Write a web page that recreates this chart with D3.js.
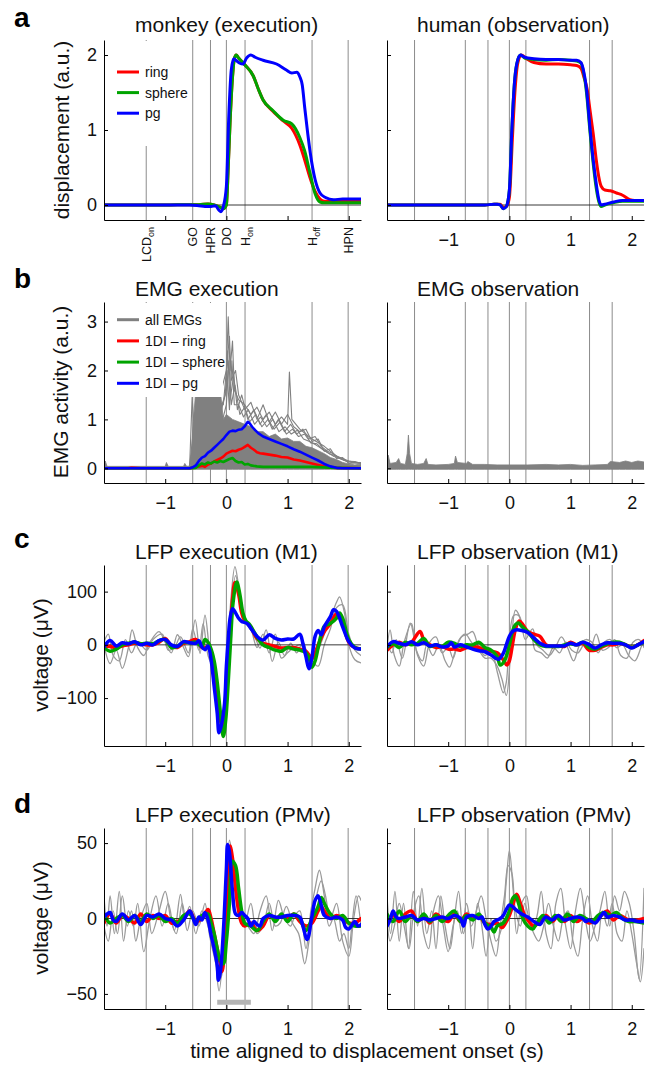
<!DOCTYPE html>
<html><head><meta charset="utf-8">
<script src="https://cdn.jsdelivr.net/npm/d3@7"></script>
<style>body{margin:0;background:#fff;} svg{display:block;}</style>
</head><body><svg id="fig" width="653" height="1065"></svg>
<script>
// ---------------- DATA ----------------
const xTicks = [-1, 0, 1, 2];
const yTicksA = [0, 1, 2];
const yTicksB = [0, 1, 2, 3];
const yTicksC = [-100, 0, 100];
const yTicksD = [-50, 0, 50];
const eventsMonkey = [-1.31, -0.55, -0.26, 0, 0.305, 1.40, 1.99];
const eventLabelsMonkey = [["LCD","on"],["GO",""],["HPR",""],["DO",""],["H","on"],["H","off"],["HPN",""]];
const eventsHuman = [-1.55, -0.72, -0.35, 0, 0.27, 1.31, 1.68];
const titles = ["monkey (execution)","human (observation)","EMG execution","EMG observation","LFP execution (M1)","LFP observation (M1)","LFP execution (PMv)","LFP observation (PMv)"];
const legendA = ["ring","sphere","pg"];
const legendB = ["all EMGs","1DI \u2013 ring","1DI \u2013 sphere","1DI \u2013 pg"];
const sigBar = [-0.15, 0.4, -55.5];

// a: displacement
const dispMonkeyRing = [[-2,0],[-1,0],[-0.6,0.005],[-0.45,0.005],[-0.3,0.012],[-0.2,0.0],[-0.1,-0.03],[-0.05,-0.05],[0,0.0],[0.03,0.5],[0.06,1.1],[0.1,1.7],[0.13,1.95],[0.16,2.0],[0.2,1.96],[0.3,1.87],[0.44,1.72],[0.52,1.55],[0.6,1.4],[0.76,1.25],[0.93,1.12],[1.07,1.02],[1.2,0.8],[1.28,0.6],[1.36,0.38],[1.45,0.18],[1.53,0.08],[1.6,0.05],[2.2,0.05]];
const dispMonkeySphere = [[-2,0],[-1,0],[-0.6,0.005],[-0.45,0.005],[-0.3,0.012],[-0.2,0.0],[-0.1,-0.03],[-0.05,-0.05],[0,0.0],[0.03,0.5],[0.06,1.1],[0.1,1.7],[0.13,1.95],[0.16,2.0],[0.2,1.96],[0.3,1.87],[0.44,1.72],[0.52,1.55],[0.6,1.4],[0.76,1.26],[0.93,1.13],[1.07,1.08],[1.2,0.9],[1.28,0.72],[1.36,0.45],[1.45,0.15],[1.53,0.04],[1.6,0.03],[2.2,0.03]];
const dispMonkeyPg = [[-2,0],[-0.6,0.0],[-0.45,-0.01],[-0.35,-0.02],[-0.25,-0.02],[-0.18,-0.01],[-0.12,-0.07],[-0.09,-0.09],[-0.05,-0.02],[0,0.25],[0.04,1.2],[0.08,1.8],[0.12,1.95],[0.17,1.92],[0.22,1.89],[0.27,1.88],[0.33,1.96],[0.4,2.0],[0.47,1.97],[0.6,1.93],[0.82,1.88],[0.98,1.8],[1.07,1.76],[1.15,1.77],[1.2,1.71],[1.24,1.6],[1.28,1.3],[1.33,0.95],[1.37,0.7],[1.45,0.34],[1.53,0.16],[1.62,0.1],[1.75,0.07],[1.9,0.08],[2.2,0.08]];
const dispHumanRing = [[-2,0],[-0.4,0],[-0.25,0.01],[-0.15,0.01],[-0.1,-0.03],[-0.05,-0.02],[0,0.1],[0.05,0.9],[0.09,1.5],[0.14,1.9],[0.2,2.0],[0.28,1.95],[0.4,1.9],[0.6,1.88],[0.8,1.88],[1.0,1.87],[1.1,1.86],[1.17,1.82],[1.22,1.7],[1.27,1.55],[1.32,1.25],[1.37,0.95],[1.42,0.6],[1.46,0.38],[1.5,0.25],[1.56,0.2],[1.65,0.19],[1.75,0.16],[1.85,0.13],[1.97,0.07],[2.05,0.06],[2.2,0.06]];
const dispHumanSphere = [[-2,0],[-0.4,0.0],[-0.25,0.01],[-0.2,0.01],[-0.15,0.0],[-0.1,-0.05],[-0.05,-0.02],[0,0.2],[0.04,1.0],[0.08,1.6],[0.12,1.88],[0.18,2.0],[0.25,1.96],[0.4,1.94],[0.6,1.93],[0.8,1.94],[1.0,1.93],[1.1,1.92],[1.17,1.89],[1.21,1.78],[1.26,1.5],[1.32,0.95],[1.37,0.55],[1.42,0.22],[1.46,0.05],[1.5,-0.02],[1.56,0.0],[1.7,0.03],[1.85,0.05],[2.2,0.05]];
const dispHumanPg = [[-2,0],[-0.4,0.0],[-0.25,0.01],[-0.2,0.01],[-0.15,0.0],[-0.1,-0.05],[-0.05,-0.02],[0,0.2],[0.04,1.0],[0.08,1.6],[0.12,1.88],[0.18,2.0],[0.25,1.97],[0.4,1.95],[0.6,1.94],[0.8,1.94],[1.0,1.93],[1.1,1.93],[1.17,1.9],[1.21,1.8],[1.26,1.55],[1.32,1.0],[1.37,0.6],[1.42,0.28],[1.46,0.08],[1.5,0.0],[1.56,0.01],[1.7,0.04],[1.85,0.06],[2.2,0.06]];

// b: EMG
const emgCore = [[-2,0.04],[-1.98,0.15],[-1.95,0.04],[-1.0,0.04],[-0.98,0.12],[-0.95,0.04],[-0.7,0.04],[-0.68,0.1],[-0.65,0.04],[-0.58,0.05],[-0.55,0.8],[-0.5,1.6],[-0.1,1.6],[-0.05,1.0],[0.0,1.1],[0.1,1.0],[0.2,0.95],[0.3,0.9],[0.4,0.85],[0.5,0.75],[0.6,0.75],[0.7,0.65],[0.8,0.7],[0.9,0.6],[1.0,0.62],[1.1,0.55],[1.2,0.55],[1.3,0.45],[1.4,0.42],[1.5,0.36],[1.6,0.3],[1.7,0.22],[1.8,0.18],[1.9,0.12],[2.0,0.09],[2.1,0.07],[2.2,0.09]];
const emgCoreBase = -0.02;
const emgTraceA = [[-0.6,0.05],[-0.56,1.45],[-0.53,0.9],[-0.3,1.6],[-0.1,1.5],[0.0,2.0],[0.03,3.1],[0.06,2.0],[0.1,2.6],[0.13,1.6],[0.2,1.4],[0.3,1.3],[0.4,1.1],[0.5,1.25],[0.6,1.0],[0.7,1.15],[0.8,0.9],[0.9,1.05],[1.0,0.9],[1.03,1.97],[1.07,1.0],[1.2,0.8],[1.4,0.6],[1.6,0.45],[1.8,0.25],[2.0,0.15],[2.2,0.1]];
const emgTraceB = [[-0.6,0.05],[-0.45,1.2],[-0.2,1.4],[-0.05,1.3],[0.05,2.7],[0.08,1.8],[0.15,2.0],[0.2,1.5],[0.3,1.2],[0.4,1.35],[0.5,1.0],[0.6,1.3],[0.7,0.95],[0.8,1.15],[0.9,0.9],[1.0,1.1],[1.1,0.85],[1.2,0.75],[1.3,0.8],[1.4,0.55],[1.5,0.6],[1.6,0.35],[1.7,0.4],[1.8,0.2],[1.9,0.22],[2.0,0.1],[2.2,0.12]];
const emgTraceC = [[-0.6,0.05],[-0.4,0.8],[-0.1,1.1],[0.0,1.6],[0.02,2.4],[0.06,1.4],[0.12,1.9],[0.18,1.2],[0.25,1.5],[0.35,1.0],[0.45,1.2],[0.55,0.9],[0.65,1.1],[0.75,0.8],[0.85,1.0],[0.95,0.75],[1.05,0.9],[1.15,0.7],[1.25,0.8],[1.35,0.6],[1.45,0.65],[1.55,0.45],[1.65,0.35],[1.75,0.3],[1.85,0.2],[1.95,0.15],[2.1,0.14],[2.2,0.1]];
const emgTraceD = [[-0.6,0.05],[-0.5,0.6],[-0.3,0.9],[-0.1,0.8],[0.0,1.3],[0.04,2.2],[0.08,1.3],[0.14,1.7],[0.22,1.1],[0.3,1.25],[0.38,0.95],[0.48,1.1],[0.58,0.85],[0.68,1.0],[0.78,0.8],[0.88,0.95],[0.98,0.7],[1.08,0.8],[1.18,0.65],[1.28,0.7],[1.38,0.52],[1.48,0.5],[1.58,0.38],[1.68,0.3],[1.78,0.26],[1.9,0.18],[2.05,0.12],[2.2,0.1]];
const emgTraceE = [[-0.6,0.05],[-0.52,1.0],[-0.35,1.2],[-0.15,1.0],[-0.02,1.5],[0.01,2.0],[0.05,1.2],[0.09,2.2],[0.13,1.3],[0.2,1.3],[0.28,1.05],[0.36,1.2],[0.46,0.9],[0.56,1.05],[0.66,0.85],[0.76,1.0],[0.86,0.75],[0.96,0.85],[1.06,0.7],[1.16,0.78],[1.26,0.6],[1.36,0.55],[1.46,0.48],[1.56,0.4],[1.66,0.32],[1.76,0.24],[1.86,0.2],[2.0,0.13],[2.2,0.11]];
const emgRing = [[-2,0],[-1.6,0.0],[-1.55,0.01],[-1.4,0.0],[-0.6,0.0],[-0.5,0.02],[-0.45,0.04],[-0.4,0.05],[-0.35,0.03],[-0.3,0.08],[-0.25,0.1],[-0.2,0.14],[-0.15,0.17],[-0.1,0.2],[-0.05,0.24],[0,0.3],[0.05,0.33],[0.1,0.36],[0.15,0.35],[0.2,0.38],[0.25,0.4],[0.3,0.44],[0.35,0.48],[0.4,0.42],[0.45,0.38],[0.5,0.33],[0.55,0.31],[0.6,0.3],[0.7,0.28],[0.8,0.26],[0.9,0.23],[1.0,0.22],[1.1,0.18],[1.2,0.16],[1.3,0.13],[1.4,0.1],[1.5,0.07],[1.6,0.04],[1.7,0.02],[1.8,0.01],[2.2,0.0]];
const emgSphere = [[-2,0],[-0.6,0],[-0.5,0.01],[-0.45,0.06],[-0.4,0.1],[-0.35,0.08],[-0.3,0.12],[-0.25,0.1],[-0.2,0.14],[-0.15,0.12],[-0.1,0.15],[-0.05,0.13],[0,0.16],[0.05,0.19],[0.1,0.21],[0.15,0.15],[0.2,0.12],[0.25,0.13],[0.3,0.08],[0.35,0.09],[0.4,0.06],[0.5,0.04],[0.6,0.03],[0.8,0.03],[1.0,0.03],[1.2,0.03],[1.4,0.03],[1.6,0.02],[1.8,0.01],[2.2,0]];
const emgPg = [[-2,0],[-0.6,0],[-0.55,0.02],[-0.5,0.06],[-0.45,0.15],[-0.4,0.22],[-0.35,0.25],[-0.3,0.32],[-0.25,0.36],[-0.2,0.42],[-0.15,0.48],[-0.1,0.54],[-0.05,0.6],[0,0.68],[0.05,0.75],[0.1,0.77],[0.15,0.76],[0.2,0.79],[0.25,0.8],[0.3,0.86],[0.35,0.95],[0.38,0.92],[0.42,0.85],[0.47,0.78],[0.52,0.72],[0.6,0.65],[0.7,0.6],[0.8,0.55],[0.9,0.5],[1.0,0.45],[1.1,0.39],[1.2,0.34],[1.3,0.28],[1.4,0.22],[1.5,0.16],[1.6,0.09],[1.7,0.04],[1.8,0.01],[1.9,0.0],[2.2,0.0]];
const emgObsTop = [[-2,0.05],[-1.98,0.27],[-1.95,0.1],[-1.85,0.12],[-1.81,0.2],[-1.78,0.1],[-1.7,0.08],[-1.67,0.3],[-1.65,0.68],[-1.63,0.3],[-1.6,0.1],[-1.5,0.08],[-1.4,0.1],[-1.36,0.2],[-1.33,0.08],[-1.2,0.07],[-1.0,0.08],[-0.9,0.1],[-0.88,0.25],[-0.85,0.12],[-0.7,0.1],[-0.68,0.14],[-0.6,0.08],[-0.4,0.08],[-0.2,0.07],[0,0.07],[0.3,0.07],[0.6,0.08],[0.8,0.07],[1.0,0.08],[1.2,0.06],[1.4,0.07],[1.6,0.08],[1.65,0.14],[1.8,0.12],[1.9,0.15],[2.0,0.12],[2.1,0.15],[2.2,0.13]];

// c: LFP M1
const lfpM1ExecRing = [[-2,-2],[-1.9,-3],[-1.8,-5],[-1.7,-2],[-1.6,0],[-1.5,3],[-1.4,2],[-1.3,0],[-1.2,0],[-1.1,5],[-1.0,12],[-0.9,-2],[-0.8,-5],[-0.7,3],[-0.6,6],[-0.5,10],[-0.4,-5],[-0.35,-5],[-0.3,-5],[-0.25,-12],[-0.2,-40],[-0.15,-95],[-0.1,-140],[-0.07,-150],[-0.03,-125],[0,-80],[0.05,0],[0.1,85],[0.14,117],[0.2,95],[0.25,60],[0.3,45],[0.35,40],[0.4,33],[0.5,12],[0.6,3],[0.7,0],[0.8,-3],[0.9,-6],[1.0,-5],[1.1,-5],[1.2,-8],[1.3,-12],[1.4,-25],[1.45,-15],[1.5,0],[1.6,25],[1.7,40],[1.8,58],[1.9,40],[2.0,5],[2.1,-5],[2.2,-8]];
const lfpM1ExecSphere = [[-2,-5],[-1.9,-12],[-1.8,-8],[-1.7,0],[-1.6,3],[-1.5,5],[-1.4,2],[-1.3,3],[-1.2,2],[-1.1,8],[-1.0,10],[-0.9,-5],[-0.8,-3],[-0.7,5],[-0.6,4],[-0.5,5],[-0.4,-3],[-0.35,10],[-0.3,5],[-0.25,-8],[-0.2,-30],[-0.15,-70],[-0.1,-125],[-0.05,-172],[-0.01,-140],[0.03,-70],[0.07,10],[0.11,80],[0.17,118],[0.22,95],[0.27,60],[0.32,45],[0.38,38],[0.45,25],[0.5,15],[0.6,0],[0.7,-5],[0.8,-10],[0.9,-12],[1.0,-5],[1.1,-8],[1.2,-10],[1.3,-15],[1.35,-25],[1.4,-42],[1.45,-30],[1.5,-5],[1.55,20],[1.6,35],[1.7,40],[1.8,50],[1.85,60],[1.9,50],[2.0,10],[2.1,-5],[2.2,-8]];
const lfpM1ExecPg = [[-2,-4],[-1.9,8],[-1.8,-2],[-1.7,4],[-1.6,2],[-1.5,6],[-1.4,0],[-1.3,3],[-1.2,0],[-1.1,8],[-1.0,10],[-0.9,0],[-0.8,-3],[-0.7,6],[-0.6,4],[-0.5,3],[-0.45,8],[-0.4,-4],[-0.35,-9],[-0.3,-2],[-0.25,-28],[-0.2,-78],[-0.15,-128],[-0.12,-165],[-0.08,-150],[-0.03,-110],[0,-40],[0.03,10],[0.06,50],[0.1,68],[0.15,60],[0.2,50],[0.25,44],[0.3,42],[0.35,39],[0.4,31],[0.5,16],[0.6,9],[0.7,19],[0.8,12],[0.9,9],[1.0,11],[1.1,11],[1.2,20],[1.25,3],[1.3,-22],[1.35,-45],[1.4,-22],[1.45,16],[1.5,27],[1.55,19],[1.6,34],[1.7,53],[1.75,66],[1.8,63],[1.9,34],[2.0,6],[2.1,-6],[2.2,-8]];
const lfpM1ExecGrayA = [[-2,0],[-1.9,-35],[-1.8,-10],[-1.7,-44],[-1.6,-5],[-1.54,28],[-1.45,-5],[-1.35,-20],[-1.25,5],[-1.1,25],[-1.0,5],[-0.9,-15],[-0.8,19],[-0.7,-5],[-0.62,-22],[-0.51,47],[-0.43,-16],[-0.35,56],[-0.28,-5],[-0.2,-60],[-0.1,-150],[-0.05,-172],[0,-80],[0.07,80],[0.14,147],[0.2,110],[0.28,50],[0.35,35],[0.45,20],[0.55,-6],[0.65,28],[0.75,-31],[0.85,5],[0.95,-20],[1.05,3],[1.15,-15],[1.25,5],[1.35,-25],[1.42,-28],[1.5,-10],[1.6,20],[1.7,50],[1.8,80],[1.85,90],[1.93,60],[2.0,0],[2.1,-28],[2.2,-34]];
const lfpM1ExecGrayB = [[-2,5],[-1.93,20],[-1.85,-20],[-1.75,-30],[-1.65,10],[-1.55,-15],[-1.45,5],[-1.3,-10],[-1.2,10],[-1.05,20],[-0.95,-10],[-0.85,-5],[-0.75,15],[-0.62,-15],[-0.55,30],[-0.45,-10],[-0.38,40],[-0.3,-20],[-0.2,-50],[-0.1,-140],[-0.05,-160],[0,-100],[0.07,50],[0.15,130],[0.22,90],[0.3,45],[0.4,30],[0.5,-5],[0.6,20],[0.7,-15],[0.8,20],[0.9,-25],[1.0,-15],[1.1,-5],[1.2,0],[1.3,-10],[1.4,-30],[1.5,-40],[1.6,0],[1.7,30],[1.8,70],[1.9,75],[2.0,20],[2.1,-10],[2.2,-20]];
const lfpM1ObsRing = [[-2,-10],[-1.9,0],[-1.8,5],[-1.7,0],[-1.6,5],[-1.46,25],[-1.4,10],[-1.3,0],[-1.2,-5],[-1.1,-3],[-1.0,-8],[-0.9,-8],[-0.8,-10],[-0.7,-5],[-0.6,-3],[-0.5,-5],[-0.4,-10],[-0.3,-12],[-0.2,-15],[-0.1,-28],[-0.04,-38],[0,-30],[0.05,0],[0.1,30],[0.16,45],[0.22,38],[0.3,25],[0.4,20],[0.5,16],[0.6,0],[0.7,-3],[0.8,-2],[0.9,-3],[1.0,5],[1.1,0],[1.2,3],[1.3,-10],[1.4,-10],[1.5,-5],[1.6,0],[1.7,0],[1.8,3],[1.9,0],[2.0,-5],[2.1,0],[2.2,8]];
const lfpM1ObsSphere = [[-2,-5],[-1.9,2],[-1.8,-5],[-1.7,5],[-1.6,0],[-1.5,3],[-1.4,12],[-1.3,-3],[-1.2,0],[-1.1,-3],[-1.0,5],[-0.9,3],[-0.8,-3],[-0.7,0],[-0.6,0],[-0.5,5],[-0.4,-5],[-0.3,-10],[-0.2,-22],[-0.15,-38],[-0.08,-30],[0,0],[0.05,25],[0.1,38],[0.15,41],[0.2,35],[0.3,25],[0.4,10],[0.5,0],[0.6,-3],[0.7,-3],[0.8,-3],[0.9,0],[1.0,2],[1.1,0],[1.2,5],[1.3,-5],[1.4,-8],[1.5,-3],[1.6,2],[1.7,5],[1.8,5],[1.9,0],[2.0,-5],[2.1,0],[2.2,5]];
const lfpM1ObsPg = [[-2,-3],[-1.9,6],[-1.8,3],[-1.7,0],[-1.6,6],[-1.5,0],[-1.4,4],[-1.3,-2],[-1.2,0],[-1.1,-4],[-1.0,-2],[-0.95,4],[-0.9,-4],[-0.8,0],[-0.7,-4],[-0.6,-8],[-0.5,-11],[-0.4,-13],[-0.3,-19],[-0.18,-27],[-0.1,-16],[-0.05,0],[0,16],[0.05,25],[0.1,28],[0.2,27],[0.3,23],[0.4,13],[0.5,3],[0.6,-2],[0.7,-2],[0.8,-2],[0.9,-2],[1.0,3],[1.1,0],[1.2,5],[1.3,1],[1.4,-6],[1.5,0],[1.6,4],[1.7,3],[1.8,3],[1.9,0],[2.0,-6],[2.1,0],[2.2,6]];
const lfpM1ObsGrayA = [[-2,-10],[-1.95,28],[-1.88,-20],[-1.8,-40],[-1.72,5],[-1.6,40],[-1.52,-10],[-1.42,-30],[-1.35,0],[-1.25,-20],[-1.15,0],[-1.05,-30],[-0.98,-42],[-0.88,-10],[-0.78,15],[-0.68,20],[-0.6,25],[-0.5,-5],[-0.4,-20],[-0.3,-10],[-0.2,-50],[-0.1,-90],[-0.05,-70],[0,10],[0.07,55],[0.15,55],[0.22,30],[0.3,20],[0.38,30],[0.45,0],[0.55,-10],[0.65,-20],[0.75,-5],[0.85,15],[0.95,-5],[1.05,-30],[1.15,0],[1.25,10],[1.35,5],[1.45,-15],[1.55,5],[1.65,10],[1.75,-5],[1.85,0],[1.95,-20],[2.05,-30],[2.15,-5],[2.2,10]];
const lfpM1ObsGrayB = [[-2,5],[-1.92,-15],[-1.85,10],[-1.75,-25],[-1.62,41],[-1.5,-20],[-1.4,-40],[-1.3,5],[-1.2,15],[-1.1,-15],[-1.0,-5],[-0.92,-25],[-0.82,10],[-0.72,20],[-0.62,5],[-0.5,-10],[-0.4,-25],[-0.3,-25],[-0.2,-40],[-0.12,-65],[-0.05,-95],[0.02,-20],[0.1,65],[0.18,50],[0.26,10],[0.35,25],[0.42,-10],[0.52,-15],[0.62,-25],[0.72,-5],[0.82,-15],[0.92,5],[1.02,-10],[1.12,-15],[1.22,0],[1.32,-5],[1.42,20],[1.52,-10],[1.62,-5],[1.72,10],[1.82,-20],[1.92,-25],[2.02,5],[2.12,10],[2.2,-5]];

// d: LFP PMv
const lfpPMvExecRing = [[-2,-3],[-1.9,3],[-1.8,-3],[-1.7,2],[-1.6,0],[-1.5,-3],[-1.4,3],[-1.3,-2],[-1.2,2],[-1.1,0],[-1.0,2],[-0.9,-3],[-0.8,-2],[-0.7,0],[-0.6,5],[-0.5,-2],[-0.4,0],[-0.3,6],[-0.25,0],[-0.2,-10],[-0.15,-20],[-0.1,-30],[-0.07,-35],[-0.03,-20],[0,0],[0.03,25],[0.06,48],[0.1,40],[0.15,20],[0.2,5],[0.25,-3],[0.3,-5],[0.4,-3],[0.5,-8],[0.6,-5],[0.7,2],[0.8,0],[0.9,2],[1.0,0],[1.1,3],[1.2,-2],[1.3,-5],[1.4,-3],[1.5,5],[1.55,8],[1.6,5],[1.7,0],[1.8,2],[1.9,0],[2.0,-3],[2.1,-3],[2.2,0]];
const lfpPMvExecSphere = [[-2,3],[-1.9,-3],[-1.8,0],[-1.7,2],[-1.6,-2],[-1.5,2],[-1.4,-2],[-1.3,3],[-1.2,0],[-1.1,2],[-1.0,-2],[-0.9,0],[-0.8,-3],[-0.7,2],[-0.6,3],[-0.5,-2],[-0.4,2],[-0.3,3],[-0.25,-3],[-0.2,-10],[-0.15,-20],[-0.1,-28],[-0.05,-30],[0,-15],[0.05,10],[0.1,38],[0.15,35],[0.2,20],[0.25,5],[0.3,-3],[0.4,-5],[0.5,-8],[0.6,-2],[0.7,3],[0.8,-2],[0.9,3],[1.0,-2],[1.1,3],[1.2,0],[1.3,-8],[1.4,0],[1.5,8],[1.55,14],[1.6,10],[1.7,3],[1.8,0],[1.9,2],[2.0,-3],[2.1,-5],[2.2,-5]];
const lfpPMvExecPg = [[-2,1],[-1.95,3],[-1.9,4],[-1.85,-1],[-1.8,-2],[-1.7,3],[-1.6,-1],[-1.5,2],[-1.4,-4],[-1.3,2],[-1.2,1],[-1.1,3],[-1.0,0],[-0.9,-1],[-0.8,-5],[-0.7,-1],[-0.6,5],[-0.55,1],[-0.5,-4],[-0.45,1],[-0.4,-1],[-0.35,4],[-0.3,-1],[-0.25,-11],[-0.2,-20],[-0.15,-31],[-0.13,-41],[-0.1,-36],[-0.05,-9],[0,33],[0.02,49],[0.05,44],[0.1,18],[0.15,3],[0.2,2],[0.25,4],[0.3,2],[0.35,0],[0.4,-5],[0.45,-2],[0.5,-4],[0.55,-5],[0.6,0],[0.7,2],[0.8,1],[0.9,1],[1.0,2],[1.1,2],[1.2,1],[1.25,-5],[1.32,-14],[1.4,2],[1.45,12],[1.5,15],[1.55,9],[1.6,2],[1.7,0],[1.8,1],[1.9,-1],[1.95,-6],[2.0,-7],[2.1,-2],[2.15,-5],[2.2,-4]];
const lfpPMvExecGrayA = [[-2,15],[-1.95,-5],[-1.9,15],[-1.83,-10],[-1.75,18],[-1.68,-15],[-1.6,5],[-1.52,-5],[-1.45,10],[-1.35,-22],[-1.25,0],[-1.15,15],[-1.05,-5],[-0.95,10],[-0.85,-8],[-0.75,16],[-0.68,0],[-0.6,8],[-0.5,-10],[-0.4,5],[-0.3,-5],[-0.2,-20],[-0.12,-48],[-0.05,-20],[0,20],[0.05,52],[0.1,40],[0.18,15],[0.25,0],[0.35,-5],[0.45,-10],[0.55,5],[0.65,15],[0.75,-8],[0.85,12],[0.95,0],[1.05,-5],[1.12,2],[1.2,5],[1.3,-20],[1.38,5],[1.45,20],[1.52,32],[1.6,15],[1.68,-5],[1.75,0],[1.85,-15],[1.92,-10],[2.0,-20],[2.05,-5],[2.12,15],[2.2,-5]];
const lfpPMvExecGrayB = [[-2,-5],[-1.93,-15],[-1.85,5],[-1.78,-10],[-1.7,15],[-1.62,-5],[-1.55,5],[-1.48,-15],[-1.4,0],[-1.3,10],[-1.22,-10],[-1.1,5],[-1.0,18],[-0.9,-2],[-0.82,-10],[-0.72,10],[-0.64,-8],[-0.55,5],[-0.45,-5],[-0.35,10],[-0.28,-10],[-0.2,-25],[-0.1,-40],[-0.04,-30],[0.02,10],[0.08,45],[0.14,30],[0.22,5],[0.3,-3],[0.4,10],[0.5,-10],[0.6,-5],[0.7,10],[0.8,-5],[0.88,-3],[0.98,8],[1.08,-3],[1.18,-10],[1.28,-30],[1.35,-15],[1.45,10],[1.55,25],[1.62,15],[1.7,0],[1.8,10],[1.9,-15],[2.0,-25],[2.08,0],[2.16,15],[2.2,12]];
const lfpPMvObsRing = [[-2,-3],[-1.9,2],[-1.8,-2],[-1.7,3],[-1.6,5],[-1.5,-2],[-1.4,2],[-1.3,-3],[-1.2,3],[-1.1,0],[-1.0,-2],[-0.9,3],[-0.8,-2],[-0.7,3],[-0.6,0],[-0.5,2],[-0.4,-3],[-0.3,-4],[-0.2,-3],[-0.12,-6],[-0.05,-2],[0,2],[0.05,8],[0.12,16],[0.18,10],[0.25,2],[0.32,-2],[0.4,-5],[0.5,-2],[0.6,2],[0.7,-2],[0.8,2],[0.9,-2],[1.0,2],[1.1,-2],[1.2,0],[1.3,-3],[1.4,-1],[1.5,2],[1.6,5],[1.7,-1],[1.8,2],[1.9,0],[2.0,-2],[2.1,-1],[2.2,0]];
const lfpPMvObsSphere = [[-2,3],[-1.9,-2],[-1.8,5],[-1.7,-2],[-1.6,2],[-1.5,-2],[-1.4,3],[-1.3,-2],[-1.2,2],[-1.1,-2],[-1.0,2],[-0.9,5],[-0.8,-2],[-0.7,2],[-0.6,-1],[-0.5,3],[-0.4,-3],[-0.3,-6],[-0.25,-9],[-0.2,-5],[-0.1,-3],[0,5],[0.05,13],[0.1,15],[0.15,10],[0.22,0],[0.3,-5],[0.38,-7],[0.45,-3],[0.55,2],[0.65,-3],[0.75,2],[0.85,-2],[0.95,3],[1.05,-2],[1.15,2],[1.25,0],[1.35,-2],[1.45,2],[1.55,4],[1.65,2],[1.75,4],[1.85,0],[1.95,-2],[2.05,-2],[2.2,-3]];
const lfpPMvObsPg = [[-2,-5],[-1.95,-1],[-1.9,5],[-1.85,1],[-1.8,0],[-1.7,1],[-1.6,2],[-1.5,-1],[-1.4,0],[-1.3,-1],[-1.2,0],[-1.1,1],[-1.0,0],[-0.9,2],[-0.8,0],[-0.75,-5],[-0.7,1],[-0.6,2],[-0.5,0],[-0.45,1],[-0.4,-4],[-0.35,-7],[-0.3,-5],[-0.25,-2],[-0.2,-1],[-0.15,0],[-0.1,2],[-0.05,6],[0,9],[0.05,8],[0.1,6],[0.2,3],[0.3,1],[0.4,-2],[0.5,-4],[0.55,-1],[0.6,1],[0.7,-1],[0.8,2],[0.9,-1],[1.0,0],[1.1,1],[1.2,0],[1.25,-2],[1.3,-1],[1.4,-3],[1.5,2],[1.55,4],[1.6,1],[1.7,2],[1.8,1],[1.9,-1],[2.0,-1],[2.1,-2],[2.2,-2]];
const lfpPMvObsGrayA = [[-2,15],[-1.94,-10],[-1.87,18],[-1.8,-15],[-1.73,10],[-1.65,-20],[-1.57,18],[-1.5,-5],[-1.43,20],[-1.35,-10],[-1.27,5],[-1.2,-20],[-1.12,15],[-1.05,-5],[-0.97,-20],[-0.9,0],[-0.83,18],[-0.75,-10],[-0.67,5],[-0.6,-20],[-0.52,10],[-0.45,-5],[-0.38,-25],[-0.3,0],[-0.22,-15],[-0.12,-5],[-0.05,25],[0,45],[0.06,20],[0.12,-10],[0.2,10],[0.28,15],[0.36,-5],[0.44,0],[0.52,18],[0.6,-10],[0.68,-20],[0.76,10],[0.84,20],[0.92,-5],[1.0,-20],[1.08,5],[1.16,20],[1.24,0],[1.32,-15],[1.4,-5],[1.48,5],[1.56,18],[1.64,-5],[1.72,15],[1.8,5],[1.88,18],[1.96,10],[2.04,-10],[2.12,-40],[2.2,20]];
const lfpPMvObsGrayB = [[-2,0],[-1.95,-15],[-1.88,-5],[-1.8,10],[-1.72,-5],[-1.64,-20],[-1.56,5],[-1.48,15],[-1.4,-10],[-1.32,-20],[-1.24,5],[-1.16,15],[-1.08,-5],[-1.0,-22],[-0.92,-5],[-0.85,5],[-0.78,-10],[-0.7,10],[-0.62,-5],[-0.54,5],[-0.46,15],[-0.38,0],[-0.3,-15],[-0.22,-25],[-0.15,-5],[-0.08,15],[-0.02,35],[0.04,30],[0.1,5],[0.18,-5],[0.25,10],[0.32,0],[0.4,-10],[0.48,-15],[0.56,-5],[0.64,10],[0.72,-5],[0.8,-15],[0.88,0],[0.96,5],[1.04,-15],[1.12,-25],[1.2,0],[1.28,15],[1.36,-5],[1.44,-15],[1.52,5],[1.6,-5],[1.68,10],[1.76,-10],[1.84,-15],[1.92,5],[2.0,-10],[2.08,-30],[2.14,-42],[2.2,-20]];

// ---------------- DRAWING ----------------
const FONT = '"Liberation Sans", Arial, Helvetica, sans-serif';
const RED = '#ff0000', GREEN = '#00a400', BLUE = '#0000ff', GRAY = '#808080', LGRAY = '#9a9a9a', EVC = '#8c8c8c';
const svg = d3.select('#fig').attr('font-family', FONT);
const xDomain = [-2, 2.2];
const xL = d3.scaleLinear().domain(xDomain).range([104, 361]);
const xR = d3.scaleLinear().domain(xDomain).range([387, 644]);
const rows = {
  a: {bot: 220, top: 40, dom: [-0.2, 2.2], ticks: yTicksA},
  b: {bot: 483, top: 302, dom: [-0.3, 3.4], ticks: yTicksB},
  c: {bot: 746, top: 565, dom: [-190, 150], ticks: yTicksC},
  d: {bot: 1009, top: 828, dom: [-60, 60], ticks: yTicksD}
};
const fmt = d3.format('d');
let clipN = 0;
function panel(xs, row, events) {
  const ys = d3.scaleLinear().domain(row.dom).range([row.bot, row.top]);
  const id = 'clip' + (clipN++);
  svg.append('clipPath').attr('id', id).append('rect')
    .attr('x', xs.range()[0]).attr('y', row.top)
    .attr('width', xs.range()[1] - xs.range()[0]).attr('height', row.bot - row.top);
  const g = svg.append('g');
  g.selectAll('line.ev').data(events).join('line').attr('class', 'ev')
    .attr('x1', d => xs(d)).attr('x2', d => xs(d))
    .attr('y1', row.bot).attr('y2', row.top)
    .attr('stroke', EVC).attr('stroke-width', 1);
  const data = g.append('g').attr('clip-path', `url(#${id})`);
  return {xs, ys, g, data, row};
}
function zeroLine(p) {
  p.data.append('line').attr('x1', p.xs.range()[0]).attr('x2', p.xs.range()[1])
    .attr('y1', p.ys(0)).attr('y2', p.ys(0)).attr('stroke', '#222').attr('stroke-width', 0.9);
}
function series(p, arr, color, width, curve) {
  const line = d3.line().x(d => p.xs(d[0])).y(d => p.ys(d[1])).curve(curve);
  p.data.append('path').datum(arr).attr('d', line)
    .attr('fill', 'none').attr('stroke', color).attr('stroke-width', width)
    .attr('stroke-linejoin', 'round').attr('stroke-linecap', 'round');
}
function band(p, arr, base, color) {
  const area = d3.area().x(d => p.xs(d[0])).y0(p.ys(base)).y1(d => p.ys(d[1])).curve(d3.curveLinear);
  p.data.append('path').datum(arr).attr('d', area).attr('fill', color).attr('stroke', color).attr('stroke-width', 0.8);
}
function axes(p, yLabels, xLabels) {
  const ay = d3.axisLeft(p.ys).tickValues(p.row.ticks).tickSizeInner(-4).tickSizeOuter(0).tickPadding(7).tickFormat(yLabels ? fmt : '');
  const gy = p.g.append('g').attr('transform', `translate(${p.xs.range()[0]},0)`).call(ay);
  const ax = d3.axisBottom(p.xs).tickValues(xTicks).tickSizeInner(-4).tickSizeOuter(0).tickPadding(13).tickFormat(xLabels ? fmt : '');
  const gx = p.g.append('g').attr('transform', `translate(0,${p.row.bot})`).call(ax);
  [gy, gx].forEach(a => {
    a.attr('font-family', FONT).attr('font-size', 18);
    a.selectAll('path,line').attr('stroke', '#000').attr('stroke-width', 1);
    a.selectAll('text').attr('fill', '#111');
  });
}
function title(x, y, txt) {
  svg.append('text').attr('x', x).attr('y', y).attr('font-size', 21).attr('fill', '#111').text(txt);
}
function yLabel(y, x, txt) {
  svg.append('text').attr('transform', `translate(${x},${y}) rotate(-90)`)
    .attr('text-anchor', 'middle').attr('font-size', 21).attr('fill', '#111').text(txt);
}
function letter(x, y, txt) {
  svg.append('text').attr('x', x).attr('y', y).attr('font-size', 28).attr('font-weight', 'bold').text(txt);
}
function legend(p, items, colors, x0, y0, dy, boxW, boxBottom) {
  p.g.append('rect').attr('x', p.xs.range()[0] + 1).attr('y', p.row.top + 1)
    .attr('width', boxW).attr('height', boxBottom - p.row.top - 1).attr('fill', '#fff');
  items.forEach((t, i) => {
    const y = y0 + i * dy;
    p.g.append('line').attr('x1', x0).attr('x2', x0 + 22).attr('y1', y).attr('y2', y)
      .attr('stroke', colors[i]).attr('stroke-width', 3);
    p.g.append('text').attr('x', x0 + 28).attr('y', y).attr('dy', '0.35em')
      .attr('font-size', 14).attr('fill', '#111').text(t);
  });
}

const cmono = d3.curveMonotoneX, clin = d3.curveLinear, ccr = d3.curveCatmullRom.alpha(0.5);

// ---- row a ----
const aL = panel(xL, rows.a, eventsMonkey);
zeroLine(aL);
series(aL, dispMonkeyRing, RED, 3, cmono);
series(aL, dispMonkeySphere, GREEN, 3, cmono);
series(aL, dispMonkeyPg, BLUE, 3, cmono);
legend(aL, legendA, [RED, GREEN, BLUE], 117, 72, 20.6, 83, 146);
axes(aL, true, false);
eventLabelsMonkey.forEach((lab, i) => {
  const t = aL.g.append('text')
    .attr('transform', `translate(${xL(eventsMonkey[i])},227) rotate(-90)`)
    .attr('text-anchor', 'end').attr('font-size', 12.5).attr('fill', '#111');
  t.append('tspan').attr('dy', '0.36em').text(lab[0]);
  if (lab[1]) t.append('tspan').attr('font-size', 9).attr('dy', 3).text(lab[1]);
});
const aR = panel(xR, rows.a, eventsHuman);
zeroLine(aR);
series(aR, dispHumanRing, RED, 3, cmono);
series(aR, dispHumanSphere, GREEN, 3, cmono);
series(aR, dispHumanPg, BLUE, 3, cmono);
axes(aR, false, true);

// ---- row b ----
const bL = panel(xL, rows.b, eventsMonkey);
band(bL, emgCore, emgCoreBase, GRAY);
[emgTraceA, emgTraceB, emgTraceC, emgTraceD, emgTraceE].forEach(tr => series(bL, tr, GRAY, 1.1, clin));
series(bL, emgRing, RED, 2.6, clin);
series(bL, emgSphere, GREEN, 2.6, clin);
series(bL, emgPg, BLUE, 2.6, clin);
legend(bL, legendB, [GRAY, RED, GREEN, BLUE], 117, 319.7, 21.2, 118, 397);
axes(bL, true, true);
const bR = panel(xR, rows.b, eventsHuman);
band(bR, emgObsTop, emgCoreBase, GRAY);
axes(bR, false, true);

// ---- row c ----
const cL = panel(xL, rows.c, eventsMonkey);
series(cL, lfpM1ExecGrayA, LGRAY, 1.3, ccr);
series(cL, lfpM1ExecGrayB, LGRAY, 1.3, ccr);
zeroLine(cL);
series(cL, lfpM1ExecRing, RED, 3.5, ccr);
series(cL, lfpM1ExecSphere, GREEN, 3.5, ccr);
series(cL, lfpM1ExecPg, BLUE, 3.5, ccr);
axes(cL, true, true);
const cR = panel(xR, rows.c, eventsHuman);
series(cR, lfpM1ObsGrayA, LGRAY, 1.3, ccr);
series(cR, lfpM1ObsGrayB, LGRAY, 1.3, ccr);
zeroLine(cR);
series(cR, lfpM1ObsRing, RED, 3.5, ccr);
series(cR, lfpM1ObsSphere, GREEN, 3.5, ccr);
series(cR, lfpM1ObsPg, BLUE, 3.5, ccr);
axes(cR, false, true);

// ---- row d ----
const dL = panel(xL, rows.d, eventsMonkey);
series(dL, lfpPMvExecGrayA, LGRAY, 1.3, ccr);
series(dL, lfpPMvExecGrayB, LGRAY, 1.3, ccr);
zeroLine(dL);
series(dL, lfpPMvExecRing, RED, 3.5, ccr);
series(dL, lfpPMvExecSphere, GREEN, 3.5, ccr);
series(dL, lfpPMvExecPg, BLUE, 3.5, ccr);
dL.data.append('line').attr('x1', xL(sigBar[0])).attr('x2', xL(sigBar[1]))
  .attr('y1', dL.ys(sigBar[2])).attr('y2', dL.ys(sigBar[2]))
  .attr('stroke', '#b4b4b4').attr('stroke-width', 5);
axes(dL, true, true);
const dR = panel(xR, rows.d, eventsHuman);
series(dR, lfpPMvObsGrayA, LGRAY, 1.3, ccr);
series(dR, lfpPMvObsGrayB, LGRAY, 1.3, ccr);
zeroLine(dR);
series(dR, lfpPMvObsRing, RED, 3.5, ccr);
series(dR, lfpPMvObsSphere, GREEN, 3.5, ccr);
series(dR, lfpPMvObsPg, BLUE, 3.5, ccr);
axes(dR, false, true);

// ---- text ----
title(135, 32, titles[0]); title(417, 32, titles[1]);
title(135, 296, titles[2]); title(417, 296, titles[3]);
title(135, 559, titles[4]); title(417, 559, titles[5]);
title(135, 822, titles[6]); title(417, 822, titles[7]);
yLabel(130, 69, "displacement (a.u.)");
yLabel(392, 68, "EMG activity (a.u.)");
yLabel(655, 48, "voltage (\u03bcV)");
yLabel(918, 48, "voltage (\u03bcV)");
letter(14, 27, "a"); letter(14, 288, "b"); letter(14, 548, "c"); letter(14, 813, "d");
svg.append('text').attr('x', 367).attr('y', 1058).attr('text-anchor', 'middle')
  .attr('font-size', 21).attr('fill', '#111').text("time aligned to displacement onset (s)");
</script></body></html>
